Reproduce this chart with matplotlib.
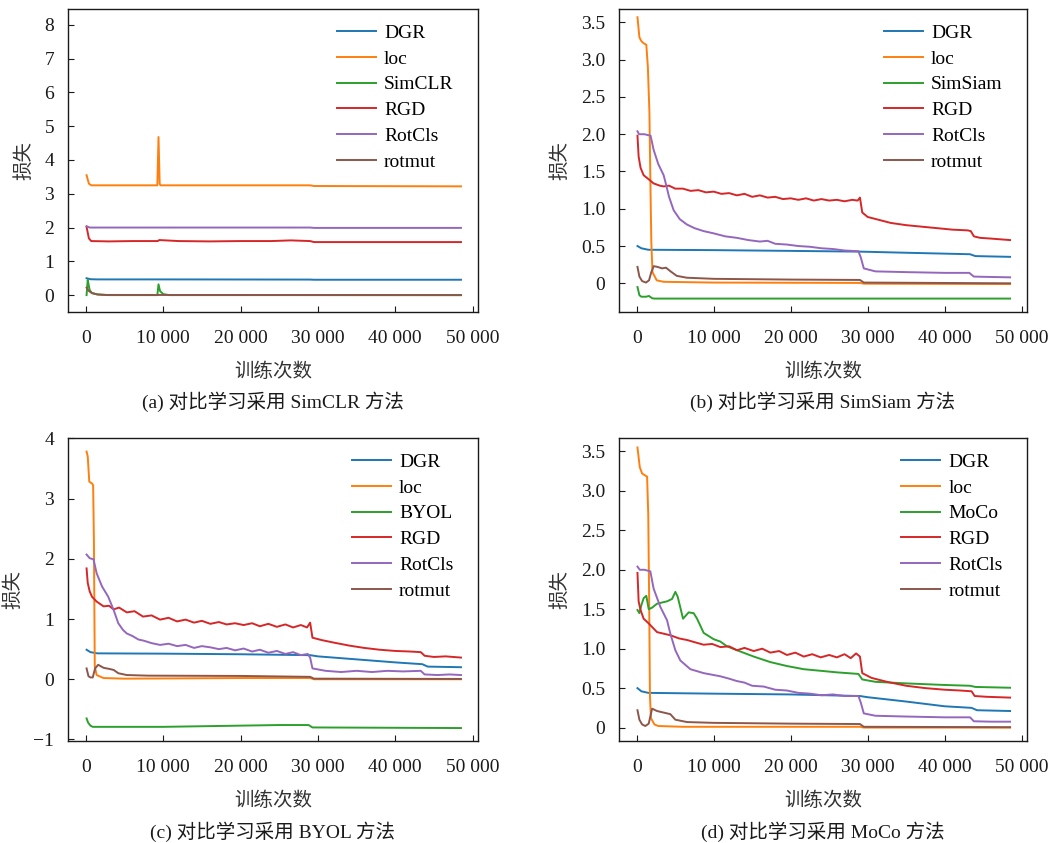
import matplotlib
matplotlib.use("Agg")
import matplotlib.pyplot as plt
from matplotlib.ticker import FuncFormatter, MultipleLocator

plt.rcParams["font.family"] = ["Liberation Serif", "Noto Sans CJK SC"]
plt.rcParams["font.size"] = 14
plt.rcParams["axes.unicode_minus"] = True

# ---------------- (a) SimCLR ----------------
a_dgr_x = [100, 600, 1500, 10000, 29000, 29500, 48500]
a_dgr_y = [0.50, 0.47, 0.465, 0.465, 0.46, 0.455, 0.455]
a_loc_x = [100, 400, 700, 9250, 9400, 9550, 9650, 29000, 29500, 48500]
a_loc_y = [3.55, 3.30, 3.25, 3.25, 4.68, 3.30, 3.25, 3.25, 3.23, 3.22]
a_met_x = [100, 250, 350, 500, 800, 1500, 3000, 9250, 9400, 9600, 10000, 10800, 48500]
a_met_y = [0.0, 0.45, 0.33, 0.15, 0.06, 0.02, 0.0, 0.0, 0.32, 0.12, 0.03, 0.0, 0.0]
a_rgd_x = [100, 400, 700, 3000, 6000, 9300, 9500, 12000, 16000, 20000, 24000, 26500, 29000, 29500, 36000, 42000, 48500]
a_rgd_y = [2.02, 1.68, 1.60, 1.59, 1.60, 1.60, 1.63, 1.60, 1.59, 1.60, 1.60, 1.62, 1.60, 1.57, 1.57, 1.57, 1.57]
a_rot_x = [100, 500, 29000, 29500, 48500]
a_rot_y = [2.04, 2.00, 2.00, 1.99, 1.99]
a_mut_x = [100, 400, 800, 1500, 2500, 48500]
a_mut_y = [0.22, 0.12, 0.06, 0.02, 0.005, 0.0]

# ---------------- (b) SimSiam ----------------
b_dgr_x = [100, 600, 1500, 10000, 20000, 29000, 35000, 43300, 44000, 48500]
b_dgr_y = [0.50, 0.47, 0.45, 0.445, 0.435, 0.425, 0.41, 0.39, 0.365, 0.355]
b_loc_x = [100, 350, 600, 900, 1250, 1450, 1650, 1800, 1900, 2050, 2600, 3500, 10000, 29000, 29500, 48500]
b_loc_y = [3.57, 3.30, 3.25, 3.22, 3.20, 2.90, 2.30, 1.20, 0.55, 0.15, 0.04, 0.02, 0.01, 0.005, -0.005, -0.01]
b_met_x = [100, 350, 600, 1200, 1600, 2000, 2300, 48500]
b_met_y = [-0.05, -0.16, -0.18, -0.18, -0.17, -0.20, -0.205, -0.205]
b_rgd_x = [100, 250, 500, 900, 1500, 2200, 3000, 3500, 4200, 5000, 6000, 7000, 8000, 9000, 10000,
           11000, 12000, 13000, 14000, 15000, 16000, 17000, 18000, 19000, 20000, 21000, 22000, 23000,
           24000, 25000, 26000, 27000, 28000, 28700, 29000, 29300, 30000, 31500, 33000, 35000, 37000,
           39000, 41000, 43000, 43400, 43800, 44600, 46000, 48500]
b_rgd_y = [1.98, 1.70, 1.55, 1.45, 1.40, 1.34, 1.31, 1.30, 1.31, 1.27, 1.27, 1.24, 1.25, 1.22, 1.23,
           1.20, 1.21, 1.18, 1.20, 1.16, 1.18, 1.15, 1.16, 1.13, 1.14, 1.12, 1.14, 1.11, 1.13, 1.11,
           1.12, 1.10, 1.12, 1.11, 1.15, 0.95, 0.89, 0.85, 0.81, 0.78, 0.76, 0.74, 0.72, 0.71, 0.70,
           0.63, 0.61, 0.60, 0.58]
b_rot_x = [100, 300, 1000, 1800, 2200, 2800, 3500, 3800, 4200, 4800, 5600, 6500, 7500, 8700, 10000,
           11500, 13000, 14500, 16000, 17000, 18000, 19500, 21000, 22500, 24000, 25500, 27000, 28800,
           29100, 29500, 31000, 35000, 40000, 43200, 43800, 46000, 48500]
b_rot_y = [2.04, 2.00, 2.00, 1.98, 1.79, 1.60, 1.45, 1.33, 1.16, 0.98, 0.86, 0.79, 0.74, 0.70, 0.67,
           0.63, 0.61, 0.58, 0.56, 0.57, 0.53, 0.52, 0.50, 0.49, 0.47, 0.46, 0.44, 0.43, 0.35, 0.20,
           0.16, 0.15, 0.14, 0.14, 0.09, 0.085, 0.08]
b_mut_x = [100, 350, 700, 1200, 1600, 1900, 2200, 2700, 3300, 3800, 4400, 5200, 6500, 10000, 20000,
           29000, 29500, 48500]
b_mut_y = [0.22, 0.09, 0.03, 0.01, 0.04, 0.15, 0.23, 0.22, 0.20, 0.21, 0.16, 0.10, 0.075, 0.06, 0.05,
           0.045, 0.01, 0.0]

# ---------------- (c) BYOL ----------------
c_dgr_x = [100, 600, 1500, 10000, 20000, 29000, 30000, 35000, 40000, 43500, 44200, 48500]
c_dgr_y = [0.49, 0.45, 0.43, 0.425, 0.415, 0.40, 0.38, 0.33, 0.28, 0.25, 0.21, 0.20]
c_loc_x = [100, 250, 450, 800, 950, 1050, 1160, 1400, 2300, 5000, 20000, 29000, 29500, 48500]
c_loc_y = [3.78, 3.70, 3.28, 3.25, 3.22, 2.30, 0.21, 0.07, 0.02, 0.01, 0.02, 0.02, 0.0, 0.0]
c_met_x = [100, 300, 600, 900, 10000, 20000, 25000, 28800, 29300, 48500]
c_met_y = [-0.65, -0.72, -0.77, -0.79, -0.79, -0.77, -0.76, -0.76, -0.80, -0.81]
c_rgd_x = [100, 250, 500, 800, 1400, 2300, 3000, 3600, 4300, 5300, 6300, 7400, 8500, 9600, 10700,
           11800, 12900, 14000, 15000, 16100, 17200, 18200, 19300, 20400, 21500, 22500, 23600, 24700,
           25800, 26800, 27800, 28600, 29000, 29300, 30500, 32000, 34000, 36000, 38000, 40000, 42000,
           43300, 43800, 45000, 46500, 48500]
c_rgd_y = [1.84, 1.60, 1.46, 1.37, 1.29, 1.21, 1.22, 1.16, 1.19, 1.11, 1.13, 1.04, 1.06, 0.99, 1.02,
           0.96, 0.99, 0.94, 0.97, 0.92, 0.95, 0.91, 0.93, 0.90, 0.93, 0.88, 0.92, 0.87, 0.91, 0.86,
           0.90, 0.86, 0.94, 0.69, 0.65, 0.61, 0.56, 0.52, 0.49, 0.47, 0.46, 0.45, 0.39, 0.37, 0.38, 0.36]
c_rot_x = [100, 500, 1000, 1400, 2100, 2900, 3600, 4200, 4800, 5300, 6000, 6800, 7500, 8500, 9600,
           10700, 11800, 12900, 14000, 15000, 16100, 17200, 18200, 19300, 20400, 21500, 22500, 23600,
           24700, 25800, 26800, 27800, 28700, 29000, 29300, 31000, 33000, 35000, 37000, 39000, 41000,
           43300, 43800, 45500, 47000, 48500]
c_rot_y = [2.07, 2.01, 1.99, 1.76, 1.54, 1.37, 1.15, 0.93, 0.82, 0.76, 0.72, 0.66, 0.64, 0.60, 0.57,
           0.59, 0.55, 0.57, 0.52, 0.55, 0.53, 0.50, 0.52, 0.48, 0.51, 0.46, 0.49, 0.44, 0.47, 0.42,
           0.45, 0.40, 0.42, 0.36, 0.18, 0.14, 0.12, 0.14, 0.12, 0.14, 0.13, 0.14, 0.08, 0.07, 0.08, 0.07]
c_mut_x = [100, 350, 600, 900, 1200, 1600, 2300, 3100, 3600, 4200, 5300, 8000, 20000, 29000, 29500, 48500]
c_mut_y = [0.18, 0.05, 0.03, 0.03, 0.18, 0.24, 0.19, 0.17, 0.155, 0.10, 0.07, 0.06, 0.055, 0.04, 0.01, 0.005]

# ---------------- (d) MoCo ----------------
d_dgr_x = [100, 600, 1500, 10000, 20000, 29000, 30000, 35000, 40000, 43500, 44200, 48500]
d_dgr_y = [0.50, 0.46, 0.44, 0.43, 0.42, 0.40, 0.385, 0.33, 0.27, 0.25, 0.22, 0.21]
d_loc_x = [100, 400, 700, 1350, 1500, 1620, 1720, 1850, 2300, 2800, 6000, 29000, 29500, 48500]
d_loc_y = [3.55, 3.30, 3.22, 3.18, 2.70, 1.60, 0.40, 0.12, 0.04, 0.02, 0.01, 0.01, 0.0, 0.0]
d_met_x = [100, 350, 600, 900, 1250, 1560, 2000, 2640, 3940, 4590, 5020, 5320, 6020, 6750, 7400,
           7840, 8700, 10000, 10870, 11730, 13030, 15200, 17360, 19520, 21700, 23860, 26000, 28800,
           29300, 31000, 35000, 40000, 43300, 44000, 48500]
d_met_y = [1.49, 1.45, 1.55, 1.64, 1.67, 1.50, 1.52, 1.57, 1.60, 1.63, 1.72, 1.66, 1.38, 1.46, 1.45,
           1.38, 1.20, 1.12, 1.09, 1.03, 0.98, 0.90, 0.83, 0.78, 0.74, 0.72, 0.70, 0.68, 0.61, 0.58,
           0.56, 0.54, 0.53, 0.515, 0.505]
d_rgd_x = [100, 250, 500, 900, 1560, 2640, 3500, 4370, 5500, 6540, 7600, 8700, 9800, 10870, 12000,
           13030, 14000, 15200, 16300, 17360, 18500, 19520, 20600, 21700, 22800, 23900, 25000, 26000,
           27000, 27800, 28500, 29000, 29300, 30500, 32500, 35000, 37500, 40000, 42000, 43500, 43900,
           45500, 48500]
d_rgd_y = [1.96, 1.60, 1.49, 1.38, 1.32, 1.21, 1.19, 1.17, 1.13, 1.11, 1.08, 1.05, 1.06, 1.02, 1.03,
           0.98, 1.01, 0.97, 1.00, 0.95, 0.97, 0.92, 0.95, 0.90, 0.93, 0.89, 0.92, 0.89, 0.93, 0.88,
           0.94, 0.90, 0.69, 0.63, 0.58, 0.53, 0.50, 0.48, 0.47, 0.46, 0.40, 0.39, 0.38]
d_rot_x = [100, 400, 1000, 1770, 2200, 3070, 3940, 4370, 5020, 5670, 6970, 8700, 10870, 12000, 13000,
           14000, 15000, 16500, 18000, 19500, 21000, 22500, 24000, 25500, 27000, 28800, 29100, 29500,
           31000, 35000, 40000, 43300, 43800, 46000, 48500]
d_rot_y = [2.04, 2.00, 2.00, 1.98, 1.76, 1.53, 1.36, 1.19, 0.98, 0.85, 0.74, 0.69, 0.65, 0.62, 0.59,
           0.57, 0.53, 0.52, 0.48, 0.47, 0.44, 0.43, 0.41, 0.42, 0.40, 0.40, 0.32, 0.18, 0.15, 0.14,
           0.13, 0.13, 0.08, 0.075, 0.075]
d_mut_x = [100, 350, 700, 1120, 1560, 2000, 2640, 3940, 4370, 5020, 6540, 10000, 20000, 29000, 29500, 48500]
d_mut_y = [0.22, 0.10, 0.04, 0.02, 0.05, 0.24, 0.21, 0.18, 0.17, 0.10, 0.07, 0.06, 0.05, 0.045, 0.01, 0.005]

methods = ["SimCLR", "SimSiam", "BYOL", "MoCo"]
captions = ["(a) 对比学习采用 SimCLR 方法", "(b) 对比学习采用 SimSiam 方法",
            "(c) 对比学习采用 BYOL 方法", "(d) 对比学习采用 MoCo 方法"]
ylims = [(-0.5, 8.47), (-0.385, 3.68), (-1.025, 4.005), (-0.17, 3.67)]
ysteps = [1, 0.5, 1, 0.5]

panels = [
    [(a_dgr_x, a_dgr_y), (a_loc_x, a_loc_y), (a_met_x, a_met_y), (a_rgd_x, a_rgd_y), (a_rot_x, a_rot_y), (a_mut_x, a_mut_y)],
    [(b_dgr_x, b_dgr_y), (b_loc_x, b_loc_y), (b_met_x, b_met_y), (b_rgd_x, b_rgd_y), (b_rot_x, b_rot_y), (b_mut_x, b_mut_y)],
    [(c_dgr_x, c_dgr_y), (c_loc_x, c_loc_y), (c_met_x, c_met_y), (c_rgd_x, c_rgd_y), (c_rot_x, c_rot_y), (c_mut_x, c_mut_y)],
    [(d_dgr_x, d_dgr_y), (d_loc_x, d_loc_y), (d_met_x, d_met_y), (d_rgd_x, d_rgd_y), (d_rot_x, d_rot_y), (d_mut_x, d_mut_y)],
]
colors = ["#1f77b4", "#ff7f0e", "#2ca02c", "#d62728", "#9467bd", "#8c564b"]

W, H = 1063, 843
# axes boxes in pixels: left, top, right, bottom
boxes = [(68, 9, 478, 312), (619, 9, 1027, 312), (68, 438, 478, 741), (619, 438, 1027, 741)]
caption_y = [402, 402, 832, 832]


def x_fmt(v, _pos):
    return f"{int(round(v)):,}".replace(",", " ")


def y_fmt_int(v, _pos):
    return f"{int(round(v))}".replace("-", "\u2212")


def y_fmt_half(v, _pos):
    if abs(v) < 1e-9:
        return "0"
    return f"{v:.1f}".replace("-", "\u2212")


fig = plt.figure(figsize=(W / 100, H / 100), dpi=100)

for i, series in enumerate(panels):
    l, t, r, b = boxes[i]
    ax = fig.add_axes([l / W, 1 - b / H, (r - l) / W, (b - t) / H])
    labels = ["DGR", "loc", methods[i], "RGD", "RotCls", "rotmut"]
    for (xs, ys), lab, col in zip(series, labels, colors):
        ax.plot(xs, ys, color=col, lw=1.4, label=lab)

    ax.set_xlim(-2300, 50700)
    ax.set_ylim(*ylims[i])
    ax.xaxis.set_major_locator(MultipleLocator(10000))
    ax.xaxis.set_major_formatter(FuncFormatter(x_fmt))
    ax.yaxis.set_major_locator(MultipleLocator(ysteps[i]))
    ax.yaxis.set_major_formatter(FuncFormatter(y_fmt_int if ysteps[i] == 1 else y_fmt_half))
    ax.tick_params(direction="in", length=4, width=0.8, labelsize=14, colors="#1a1a1a")
    ax.tick_params(axis="x", pad=13)
    ax.tick_params(axis="y", pad=10)
    for sp in ax.spines.values():
        sp.set_linewidth(1.0)
        sp.set_color("#1a1a1a")

    ax.set_xlabel("训练次数", labelpad=11, color="#333333")
    ax.set_ylabel("损失", labelpad=8, color="#333333")

    ax.legend(loc="upper right", bbox_to_anchor=(0.94, 0.95), frameon=False,
              borderaxespad=0, borderpad=0, labelspacing=0.42, handlelength=2.0,
              handletextpad=0.4, fontsize=14)

    fig.text(((l + r) / 2) / W, 1 - caption_y[i] / H, captions[i],
             ha="center", va="center", fontsize=14, color="#1a1a1a")

fig.savefig("out.png", dpi=100)
